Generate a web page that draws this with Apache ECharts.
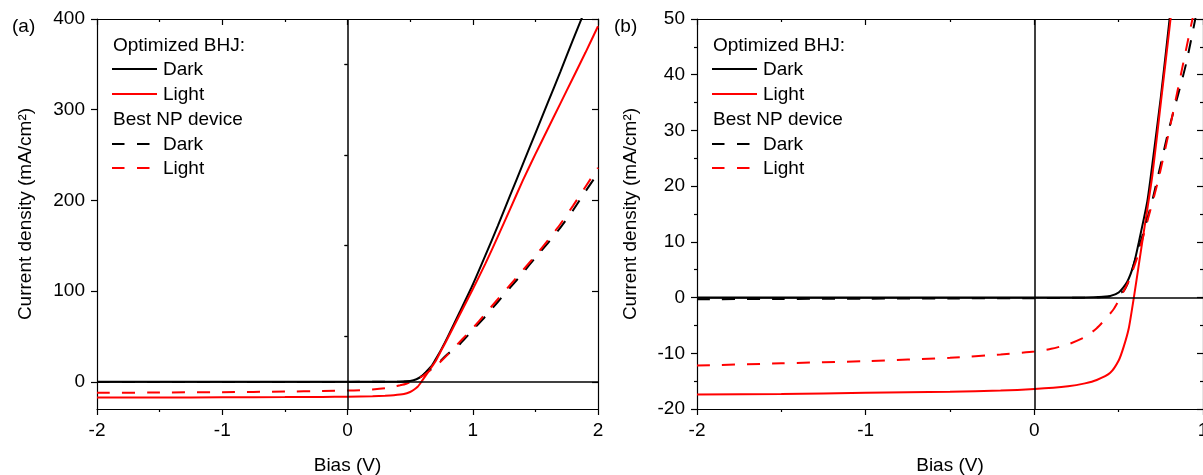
<!DOCTYPE html>
<html>
<head>
<meta charset="utf-8">
<script src="https://cdn.jsdelivr.net/npm/echarts@6/dist/echarts.min.js"></script>
<style>
html,body{margin:0;padding:0;background:#fff;}
#chart{width:1203px;height:475px;}
</style>
</head>
<body>
<div id="chart"></div>
<script>
// ---- Data ----
// Optimized BHJ, dark (black solid)
const bhjDarkV = [-2, -1.5, -1, -0.5, 0, 0.2, 0.35, 0.45, 0.5, 0.55, 0.59, 0.62, 0.67, 0.7, 0.75, 0.8, 0.9, 1.0, 1.1, 1.2, 1.3, 1.4, 1.5, 1.6, 1.7, 1.8, 1.9];
const bhjDarkJ = [0, 0, 0, 0, 0, 0, 0.05, 0.3, 0.9, 2.8, 6.0, 10, 17.3, 24, 36, 49.5, 78, 107, 139, 172, 206, 240, 274, 308, 342, 377, 411];
// Optimized BHJ, light (red solid)
const bhjLightV = [-2, -1.5, -1, -0.5, -0.2, 0, 0.2, 0.3, 0.37, 0.45, 0.5, 0.53, 0.56, 0.59, 0.62, 0.65, 0.7, 0.75, 0.8, 0.9, 1.0, 1.1, 1.2, 1.3, 1.4, 1.5, 1.6, 1.7, 1.8, 1.9, 2.0];
const bhjLightJ = [-17.4, -17.3, -17.1, -16.9, -16.7, -16.4, -15.9, -15.4, -14.8, -13.5, -11.3, -8.8, -5.5, 0, 6, 12, 22, 35, 48, 75, 102, 130, 160, 191, 222, 251, 279, 307, 335, 363, 392];
// Best NP device, dark (black dashed)
const npDarkV = [-2, -1.5, -1, -0.5, 0, 0.3, 0.45, 0.5, 0.53, 0.56, 0.59, 0.65, 0.7, 0.75, 0.8, 0.9, 1.0, 1.1, 1.2, 1.3, 1.4, 1.5, 1.6, 1.7, 1.8, 1.9, 2.0];
const npDarkJ = [-0.3, -0.25, -0.2, -0.15, -0.1, 0, 0.2, 0.7, 1.2, 3.0, 6.0, 12, 17.5, 24, 30.5, 42, 57, 72, 88, 104, 120, 137, 153, 170, 189, 210, 230];
// Best NP device, light (red dashed)
const npLightV = [-2, -1.5, -1, -0.5, -0.2, 0, 0.1, 0.2, 0.3, 0.37, 0.42, 0.47, 0.51, 0.56, 0.61, 0.67, 0.73, 0.8, 0.92, 1.0, 1.1, 1.2, 1.3, 1.4, 1.5, 1.6, 1.7, 1.8, 1.9, 2.0];
const npLightJ = [-12.2, -11.8, -11.4, -10.8, -10.2, -9.7, -9.2, -8.4, -7.1, -5.5, -3.9, -2.1, 0, 3.0, 7.2, 13.7, 20.5, 30, 47.5, 59, 75, 91, 107, 123, 139, 156, 174, 194, 215, 236];

// Tick values
const yMajorA = [0, 100, 200, 300, 400];
const yMinorA = [50, 150, 250, 350];
const panelLabels = ['(a)', '(b)'];
const legendHeaders = ['Optimized BHJ:', 'Best NP device'];
const legendItems = ['Dark', 'Light'];
const xName = 'Bias (V)';
const yName = 'Current density (mA/cm\u00B2)';

// ---- Chart ----
const FONT = "'Liberation Sans', Arial, sans-serif";
const FS = 19;
const pairs = (xs, ys) => xs.map((x, i) => [x, ys[i]]);

const lineAxis = {show: true, onZero: false, lineStyle: {color: '#000', width: 1.2}};
const lbl = {color: '#000', fontFamily: FONT, fontSize: FS, margin: 12};
const nameStyle = {color: '#000', fontFamily: FONT, fontSize: FS};
const tickStyle = {color: '#000', width: 1.2};

function xPair(grid, min, max) {
  return [
    {gridIndex: grid, type: 'value', min: min, max: max, interval: 1, position: 'bottom',
     axisLine: lineAxis, axisTick: {show: true, inside: false, length: 6, lineStyle: tickStyle},
     minorTick: {show: true, splitNumber: 2, length: 3, lineStyle: tickStyle},
     axisLabel: lbl, splitLine: {show: false}, minorSplitLine: {show: false},
     name: xName, nameLocation: 'middle', nameGap: 47, nameTextStyle: nameStyle},
    {gridIndex: grid, type: 'value', min: min, max: max, interval: 1, position: 'top',
     axisLine: lineAxis, axisTick: {show: true, inside: true, length: 6, lineStyle: tickStyle},
     minorTick: {show: true, splitNumber: 2, length: 3, lineStyle: tickStyle},
     axisLabel: {show: false}, splitLine: {show: false}}
  ];
}

const xAxes = [].concat(xPair(0, -2, 2), xPair(1, -2, 1));

const yAxes = [
  // a: left major
  {gridIndex: 0, type: 'value', min: -30, max: 400, position: 'left',
   axisLine: lineAxis, axisTick: {show: true, inside: false, length: 6, customValues: yMajorA, lineStyle: tickStyle},
   axisLabel: Object.assign({customValues: yMajorA}, lbl), splitLine: {show: false},
   name: yName, nameLocation: 'middle', nameGap: 62, nameTextStyle: nameStyle},
  // a: left minor
  {gridIndex: 0, type: 'value', min: -30, max: 400, position: 'left',
   axisLine: {show: false}, axisTick: {show: true, inside: false, length: 3, customValues: yMinorA, lineStyle: tickStyle},
   axisLabel: {show: false}, splitLine: {show: false}},
  // a: right major
  {gridIndex: 0, type: 'value', min: -30, max: 400, position: 'right',
   axisLine: lineAxis, axisTick: {show: true, inside: true, length: 6, customValues: yMajorA, lineStyle: tickStyle},
   axisLabel: {show: false}, splitLine: {show: false}},
  // a: right minor
  {gridIndex: 0, type: 'value', min: -30, max: 400, position: 'right',
   axisLine: {show: false}, axisTick: {show: true, inside: true, length: 3, customValues: yMinorA, lineStyle: tickStyle},
   axisLabel: {show: false}, splitLine: {show: false}},
  // b: left
  {gridIndex: 1, type: 'value', min: -20, max: 50, interval: 10, position: 'left',
   axisLine: lineAxis, axisTick: {show: true, inside: false, length: 6, lineStyle: tickStyle},
   minorTick: {show: true, splitNumber: 2, length: 3, lineStyle: tickStyle},
   axisLabel: lbl, splitLine: {show: false}, minorSplitLine: {show: false},
   name: yName, nameLocation: 'middle', nameGap: 57, nameTextStyle: nameStyle},
  // b: right
  {gridIndex: 1, type: 'value', min: -20, max: 50, interval: 10, position: 'right',
   axisLine: lineAxis, axisTick: {show: true, inside: true, length: 6, lineStyle: tickStyle},
   minorTick: {show: true, splitNumber: 2, length: 3, lineStyle: tickStyle},
   axisLabel: {show: false}, splitLine: {show: false}}
];

const zeroLines = {
  silent: true, symbol: 'none', label: {show: false},
  lineStyle: {color: '#000', width: 1.5, type: 'solid'},
  emphasis: {disabled: true},
  data: [{yAxis: 0}, {xAxis: 0}]
};

function seriesFor(xi, yi) {
  const base = {type: 'line', xAxisIndex: xi, yAxisIndex: yi, showSymbol: false, symbol: 'none',
    smooth: 0.2, clip: true, animation: false};
  return [
    Object.assign({}, base, {name: 'BHJ Dark', data: pairs(bhjDarkV, bhjDarkJ),
      lineStyle: {color: '#000', width: 2}, markLine: zeroLines}),
    Object.assign({}, base, {name: 'BHJ Light', data: pairs(bhjLightV, bhjLightJ),
      lineStyle: {color: '#ff0000', width: 2}}),
    Object.assign({}, base, {name: 'NP Dark', data: pairs(npDarkV, npDarkJ),
      lineStyle: {color: '#000', width: 2, type: [13, 12]}}),
    Object.assign({}, base, {name: 'NP Light', data: pairs(npLightV, npLightJ),
      lineStyle: {color: '#ff0000', width: 2, type: [13, 12]}})
  ];
}

function legendGraphics(dx) {
  const t = (text, x, y) => ({type: 'text', x: x + dx, y: y,
    style: {text: text, fill: '#000', font: FS + 'px ' + FONT, textVerticalAlign: 'middle', textAlign: 'left'}});
  const l = (y, color, dash) => ({type: 'line', shape: {x1: 112 + dx, y1: y, x2: 157 + dx, y2: y},
    style: {stroke: color, lineWidth: 2, lineDash: dash || null}});
  return [
    t(legendHeaders[0], 113, 46),
    l(69, '#000'), t(legendItems[0], 163, 70),
    l(94, '#ff0000'), t(legendItems[1], 163, 95),
    t(legendHeaders[1], 113, 120),
    l(144, '#000', [12.5, 12.5]), t(legendItems[0], 163, 145),
    l(168, '#ff0000', [12.5, 12.5]), t(legendItems[1], 163, 169)
  ];
}

const graphics = [
  {type: 'text', x: 12, y: 27, style: {text: panelLabels[0], fill: '#000', font: FS + 'px ' + FONT, textVerticalAlign: 'middle'}},
  {type: 'text', x: 614, y: 27, style: {text: panelLabels[1], fill: '#000', font: FS + 'px ' + FONT, textVerticalAlign: 'middle'}}
].concat(legendGraphics(0), legendGraphics(600));

const chart = echarts.init(document.getElementById('chart'), null, {renderer: 'canvas'});
chart.setOption({
  backgroundColor: '#fff',
  animation: false,
  grid: [
    {left: 97, top: 19, width: 501, height: 390, outerBoundsMode: 'none', containLabel: false},
    {left: 697, top: 19, width: 506, height: 390, outerBoundsMode: 'none', containLabel: false}
  ],
  xAxis: xAxes,
  yAxis: yAxes,
  series: [].concat(seriesFor(0, 0), seriesFor(2, 4)),
  graphic: graphics
});
</script>
</body>
</html>
